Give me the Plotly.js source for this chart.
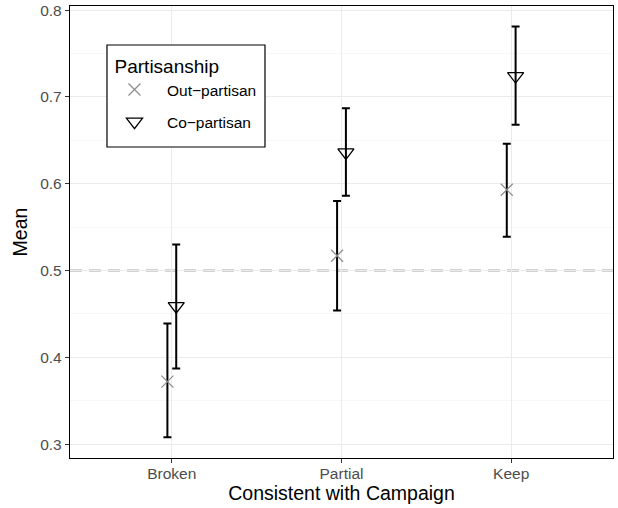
<!DOCTYPE html>
<html>
<head>
<meta charset="utf-8">
<script src="https://cdn.plot.ly/plotly-3.0.1.min.js"></script>
<style>html,body{margin:0;padding:0;background:#fff;}</style>
</head>
<body>
<div id="chart" style="width:618px;height:508px;"></div>
<script>
const categories = ["Broken", "Partial", "Keep"];
const outMean = [0.372, 0.517, 0.593];
const outLow  = [0.308, 0.454, 0.539];
const outHigh = [0.439, 0.580, 0.646];
const coMean  = [0.459, 0.636, 0.724];
const coLow   = [0.387, 0.586, 0.668];
const coHigh  = [0.530, 0.687, 0.781];
const refLine = 0.5;

const catIdx = categories.map((c, i) => i + 1);
const dodge = 0.026;

function errs(mean, lo, hi) {
  return {
    type: 'data', symmetric: false,
    array: hi.map((h, i) => h - mean[i]),
    arrayminus: lo.map((l, i) => mean[i] - l),
    color: '#000', thickness: 2, width: 4
  };
}

const traces = [
  {
    x: catIdx.map(v => v - dodge), y: outMean, name: 'Out\u2212partisan',
    legendgroup: 'a',
    type: 'scatter', mode: 'markers',
    marker: {symbol: 'x-thin-open', size: 12, color: '#8c8c8c', line: {color: '#8c8c8c', width: 1.2}},
    error_y: errs(outMean, outLow, outHigh)
  },
  {
    x: catIdx.map(v => v + dodge), y: coMean, name: 'Co\u2212partisan',
    legendgroup: 'b',
    type: 'scatter', mode: 'markers',
    marker: {symbol: 'triangle-down-open', size: 14, color: '#000', line: {color: '#000', width: 1.3}},
    error_y: errs(coMean, coLow, coHigh)
  }
];

const layout = {
  width: 618, height: 508,
  margin: {l: 70, r: 5, t: 6, b: 50},
  paper_bgcolor: '#fff', plot_bgcolor: '#fff',
  font: {family: 'Liberation Sans, Arial, sans-serif', color: '#000'},
  showlegend: true,
  legend: {
    x: 0.0589, y: 0.9066, xanchor: 'left', yanchor: 'top',
    bgcolor: 'rgba(0,0,0,0)', borderwidth: 0,
    title: {text: '\u00a0\u00a0Partisanship', font: {size: 19, color: '#000'}},
    font: {size: 15.5, color: '#000'},
    traceorder: 'grouped',
    itemwidth: 55, tracegroupgap: 9
  },
  xaxis: {
    range: [0.4, 3.6],
    tickmode: 'array', tickvals: catIdx, ticktext: categories,
    showgrid: true, gridcolor: '#ebebeb', gridwidth: 1.1,
    zeroline: false, showline: true, mirror: true, linecolor: '#000', linewidth: 1.2,
    ticks: 'outside', ticklen: 4, tickcolor: '#333', tickwidth: 1,
    ticklabelstandoff: -3,
    tickfont: {size: 15.5, color: '#4d4d4d'},
    title: {text: 'Consistent with Campaign', font: {size: 19.5, color: '#000'}, standoff: 2}
  },
  yaxis: {
    range: [0.2840, 0.8047],
    tickmode: 'array',
    tickvals: [0.3, 0.4, 0.5, 0.6, 0.7, 0.8],
    ticktext: ['0.3', '0.4', '0.5', '0.6', '0.7', '0.8'],
    showgrid: true, gridcolor: '#ebebeb', gridwidth: 1.1,
    minor: {tickvals: [0.35, 0.45, 0.55, 0.65, 0.75], showgrid: true, gridcolor: '#f2f2f2', gridwidth: 0.6, ticks: ''},
    zeroline: false, showline: true, mirror: true, linecolor: '#000', linewidth: 1.2,
    ticks: 'outside', ticklen: 4, tickcolor: '#333', tickwidth: 1,
    tickfont: {size: 15.5, color: '#4d4d4d'},
    title: {text: 'Mean', font: {size: 19.5, color: '#000'}, standoff: 7}
  },
  shapes: [
    {
      type: 'line', xref: 'paper', x0: 0, x1: 1, yref: 'y', y0: refLine, y1: refLine,
      line: {color: '#a6a6a6', width: 2, dash: '12px,7px'}, layer: 'between'
    },
    {
      type: 'rect', xref: 'paper', yref: 'paper',
      x0: 0.0681, x1: 0.3591, y0: 0.688, y1: 0.9137,
      fillcolor: '#fff', line: {color: '#000', width: 1.2}, layer: 'above'
    }
  ]
};

Plotly.newPlot('chart', traces, layout, {displayModeBar: false, staticPlot: true});
</script>
</body>
</html>
